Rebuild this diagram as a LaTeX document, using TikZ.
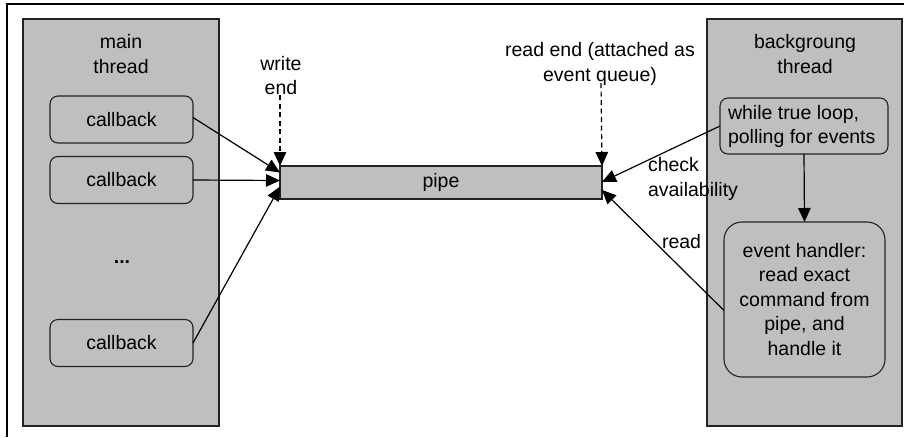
\documentclass[tikz,border=0pt]{standalone}
\usepackage{fontspec}
\setmainfont{Liberation Sans}
\usetikzlibrary{arrows.meta,calc}
\definecolor{boxgray}{RGB}{190,191,193}
\definecolor{edgegray}{RGB}{35,35,35}
\begin{document}
\begin{tikzpicture}[x=1pt,y=-1pt,
  every node/.style={font=\fontsize{19.5}{24.5}\selectfont, inner sep=0pt, outer sep=0pt},
  threadbox/.style={draw=edgegray, fill=boxgray, line width=1.4pt, minimum width=196pt, minimum height=407pt},
  roundbox/.style={draw=edgegray, fill=boxgray, line width=1.1pt, rounded corners=8pt},
  pipebox/.style={draw=edgegray, fill=boxgray, line width=1.3pt, minimum width=322pt, minimum height=33pt},
  conn/.style={line width=1.2pt, -{Triangle[length=14pt,width=12.5pt]}},
  dashconn/.style={conn, dash pattern=on 5pt off 3.5pt}
]
\useasboundingbox (0,0) rectangle (904,437);
\draw[line width=1.5pt] (7,437) -- (7,4) -- (904,4);

% thread panels
\node[threadbox] (mainth) at (121,222.5) {};
\node[threadbox, minimum width=195pt] (bgth) at (804.5,222.5) {};
\node[align=center] (mainlbl) at (121,54) {main\\thread};
\node[align=center] (bglbl) at (805,54) {backgroung\\thread};

% callbacks
\node[roundbox, minimum width=143pt, minimum height=47pt] (cb1) at (121.5,119.5) {callback};
\node[roundbox, minimum width=143pt, minimum height=47pt] (cb2) at (121.5,180) {callback};
\node[roundbox, minimum width=143pt, minimum height=47pt] (cb3) at (121.5,343) {callback};
\node (dots) at (122,262) {\textbf{...}};

% pipe
\node[pipebox] (pipe) at (441,182.5) {pipe};

% background thread boxes
\node[roundbox, minimum width=168pt, minimum height=56pt] (loop) at (804,126) {};
\node[anchor=west, align=left] (looptxt) at (728,126.5) {while true loop,\\polling for events};
\node[roundbox, rounded corners=18pt, minimum width=161pt, minimum height=155pt, align=center] (eh) at (804.5,299.5)
  {event handler:\\read exact\\command from\\pipe, and\\handle it};

% labels
\node[align=center] (wlbl) at (281,75.5) {write\\end};
\node[align=center] (rlbl) at (600,64) {read end (attached as\\event queue)};
\node[anchor=west, align=left] (chk) at (648,179) {check\\availability};
\node[anchor=base west] (rd) at (662,248) {read};

\coordinate (wstart) at (280,95);
\coordinate (rstart) at (601,83);

% connectors
\draw[dashconn] (wstart) -- (pipe.north west);
\draw[dashconn] (rstart) -- (pipe.north east);
\draw[conn] ($(cb1.east)+(0,-2)$) -- ($(pipe.west)+(0,-10)$);
\draw[conn] (cb2.east) -- ($(pipe.west)+(0,-2)$);
\draw[conn] (cb3.east) -- ($(pipe.west)+(0,4)$);
\draw[conn] (loop.west) -- ($(pipe.east)+(0,-0.5)$);
\draw[conn] ($(eh.west)+(0,11)$) -- ($(pipe.east)+(0,7.5)$);
\draw[conn] (loop.south) -- (eh.north);
\end{tikzpicture}
\end{document}
